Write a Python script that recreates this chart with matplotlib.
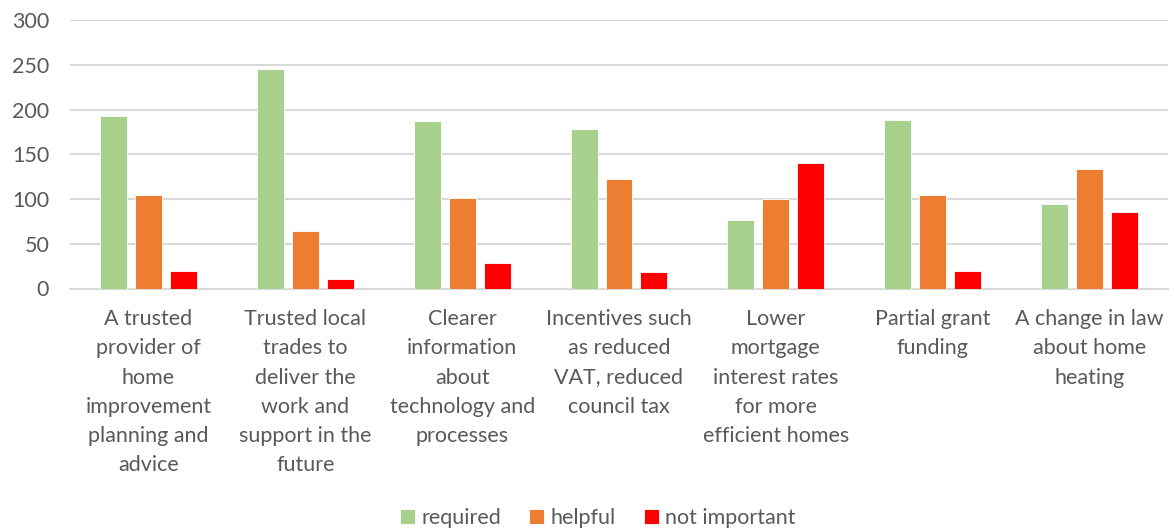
import numpy as np
import matplotlib.pyplot as plt

categories = [
    "A trusted\nprovider of\nhome\nimprovement\nplanning and\nadvice",
    "Trusted local\ntrades to\ndeliver the\nwork and\nsupport in the\nfuture",
    "Clearer\ninformation\nabout\ntechnology and\nprocesses",
    "Incentives such\nas reduced\nVAT, reduced\ncouncil tax",
    "Lower\nmortgage\ninterest rates\nfor more\nefficient homes",
    "Partial grant\nfunding",
    "A change in law\nabout home\nheating",
]
required = [193, 245, 187, 178, 76, 188, 94]
helpful = [104, 64, 101, 122, 100, 105, 134]
not_important = [19, 11, 29, 18, 140, 19, 86]

series = [
    ("required", required, "#A9D18E"),
    ("helpful", helpful, "#ED7D31"),
    ("not important", not_important, "#FF0000"),
]

plt.rcParams['font.family'] = ['Lato', 'DejaVu Sans']
text_color = "#595959"

W, H = 1174, 531
fig = plt.figure(figsize=(W / 100, H / 100), dpi=100)
ax = fig.add_axes([70 / W, (H - 288.5) / H, 1098 / W, 268.5 / H])

x = np.arange(len(categories))
bar_w = 0.172
step = 0.223
for i, (name, vals, col) in enumerate(series):
    ax.bar(x + (i - 1) * step, vals, width=bar_w, color=col,
           edgecolor="white", linewidth=0.6, label=name, zorder=3)

ax.set_xlim(-0.5, len(categories) - 0.5)
ax.set_ylim(0, 300)
ax.set_yticks(range(0, 301, 50))
ax.yaxis.grid(True, color="#D9D9D9", linewidth=1.5, zorder=0)
ax.set_axisbelow(True)
for s in ["top", "right", "left"]:
    ax.spines[s].set_visible(False)
ax.spines["bottom"].set_color("#D9D9D9")
ax.spines["bottom"].set_linewidth(1.5)

ax.set_xticks(x)
ax.set_xticklabels(categories, fontsize=15.5, color=text_color,
                   linespacing=1.57, va="top", ha="center")
ax.tick_params(axis="x", length=0, pad=15)
ax.tick_params(axis="y", length=0, pad=15, labelsize=15.5, labelcolor=text_color)

leg = fig.legend(loc="center", bbox_to_anchor=(598 / W, 1 - 518 / H), ncol=3,
                 frameon=False, fontsize=15.5, handlelength=0.7,
                 handleheight=0.7, handletextpad=0.3, columnspacing=1.3)
for t in leg.get_texts():
    t.set_color(text_color)

fig.savefig("out.png", dpi=100)
